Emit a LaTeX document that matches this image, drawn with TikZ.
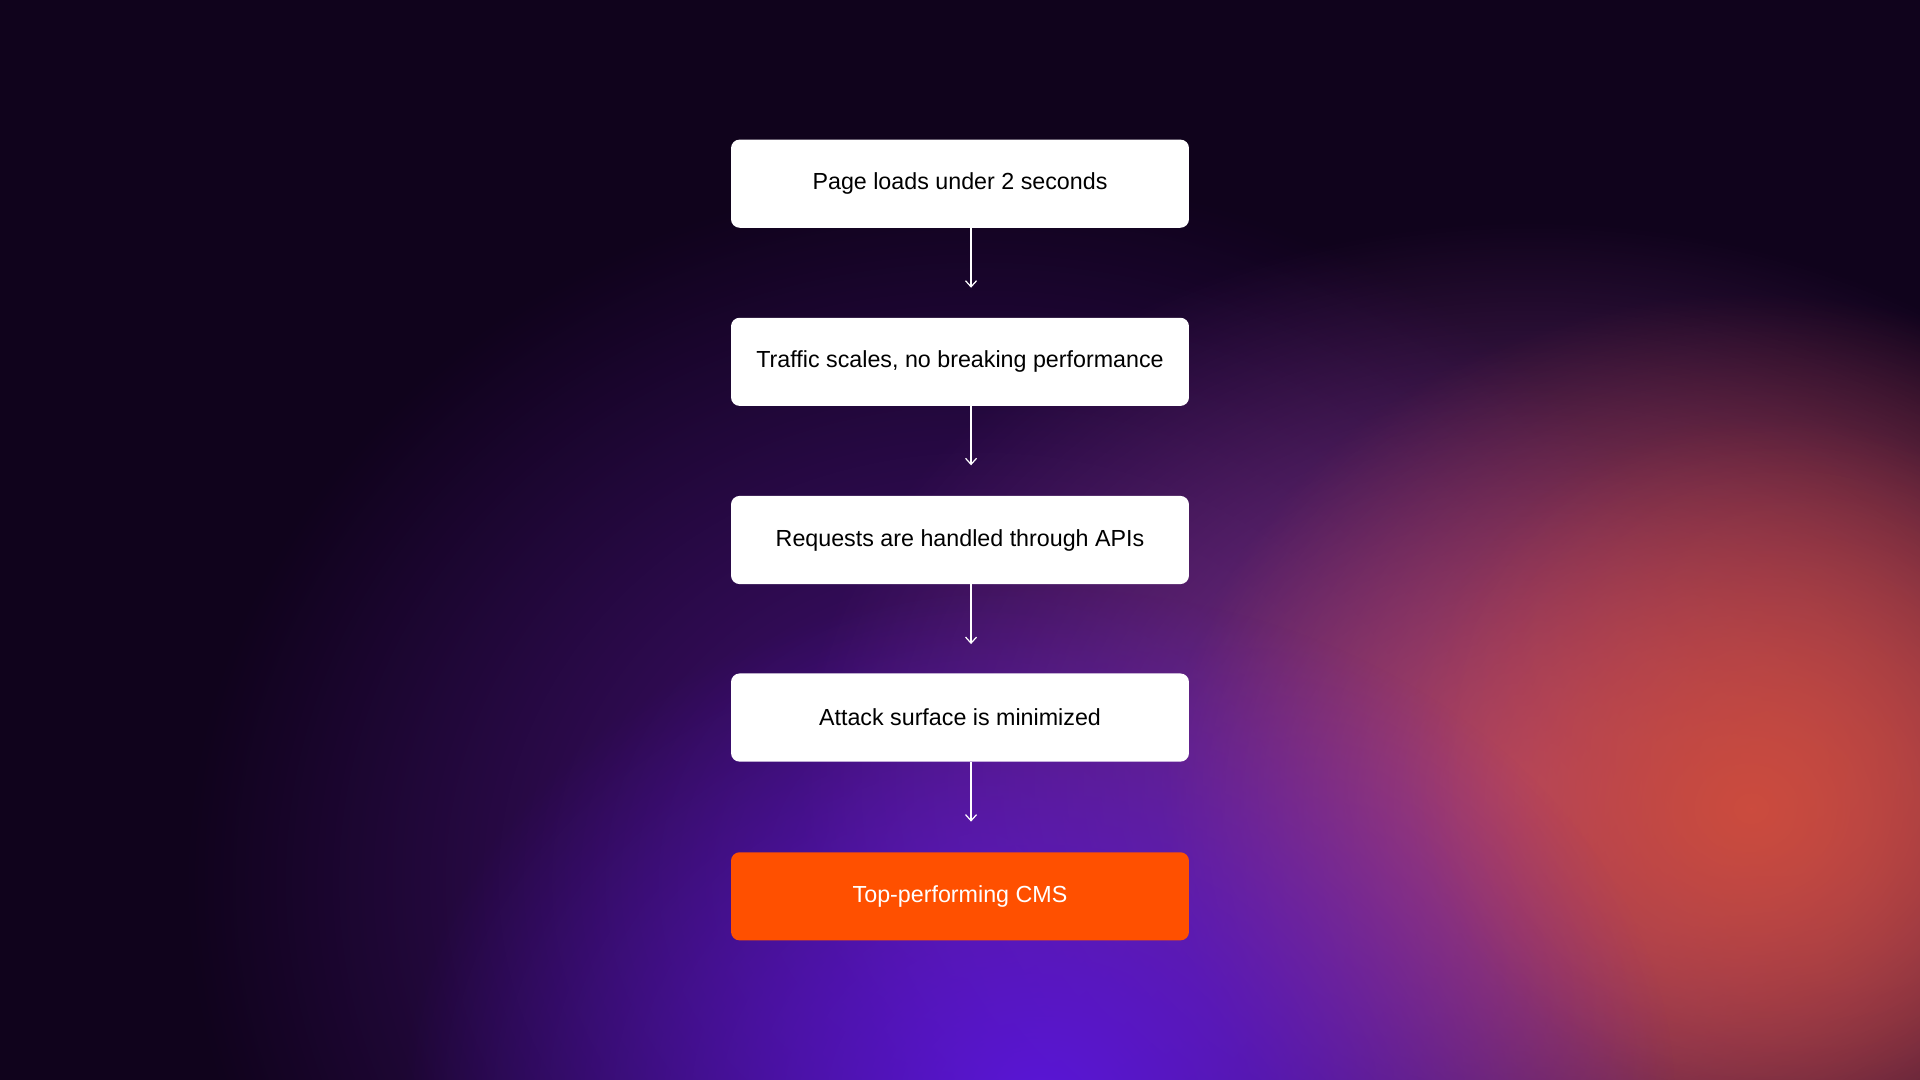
\documentclass[tikz,border=0pt]{standalone}
\usepackage{fontspec}
\setmainfont{Liberation Sans}
\usetikzlibrary{arrows.meta,fadings}
\definecolor{bgdark}{HTML}{10031C}
\definecolor{glowor}{HTML}{CC4C3E}
\definecolor{glowvi}{HTML}{5A16D8}
\definecolor{glowpu}{HTML}{4A1280}
\definecolor{glowmag}{HTML}{8A3A90}
\definecolor{cmsor}{HTML}{FF5000}
\tikzfading[name=glow, inner color=transparent!0, outer color=transparent!100]
\tikzset{
  stepbox/.style={fill=white, rounded corners=7pt, minimum width=374pt, minimum height=72pt, inner sep=0pt, font=\fontsize{19}{22}\selectfont, text=black},
  cmsbox/.style={stepbox, fill=cmsor, text=white},
  flow/.style={draw=white, line width=1pt, -{Straight Barb[length=5pt,width=9pt]}}
}
\begin{document}
\begin{tikzpicture}[x=1pt,y=1pt]
\useasboundingbox (0,0) rectangle (1568,-882);
\fill[bgdark] (0,0) rectangle (1568,-882);
\begin{scope}
\clip (0,0) rectangle (1568,-882);
\fill[glowpu, path fading=glow] (800,-720) ellipse (650 and 580);
\fill[glowmag, path fading=glow] (1250,-640) ellipse (600 and 460);
\fill[glowor, path fading=glow] (1430,-660) ellipse (480 and 420);
\fill[glowvi, path fading=glow] (850,-900) ellipse (520 and 420);
\fill[glowor, path fading=glow, opacity=0.5] (1450,-620) ellipse (300 and 280);
\end{scope}
\node[stepbox] (a) at (784,-150) {Page loads under 2 seconds};
\node[stepbox] (b) at (784,-295.5) {Traffic scales, no breaking performance};
\node[stepbox] (c) at (784,-441) {Requests are handled through APIs};
\node[stepbox] (d) at (784,-586) {Attack surface is minimized};
\node[cmsbox] (e) at (784,-732) {Top-performing CMS};
\coordinate (a2) at (793,-235);
\coordinate (b2) at (793,-380);
\coordinate (c2) at (793,-526);
\coordinate (d2) at (793,-671);
\draw[flow] (a.south -| a2) -- (a2);
\draw[flow] (b.south -| b2) -- (b2);
\draw[flow] (c.south -| c2) -- (c2);
\draw[flow] (d.south -| d2) -- (d2);
\end{tikzpicture}
\end{document}
